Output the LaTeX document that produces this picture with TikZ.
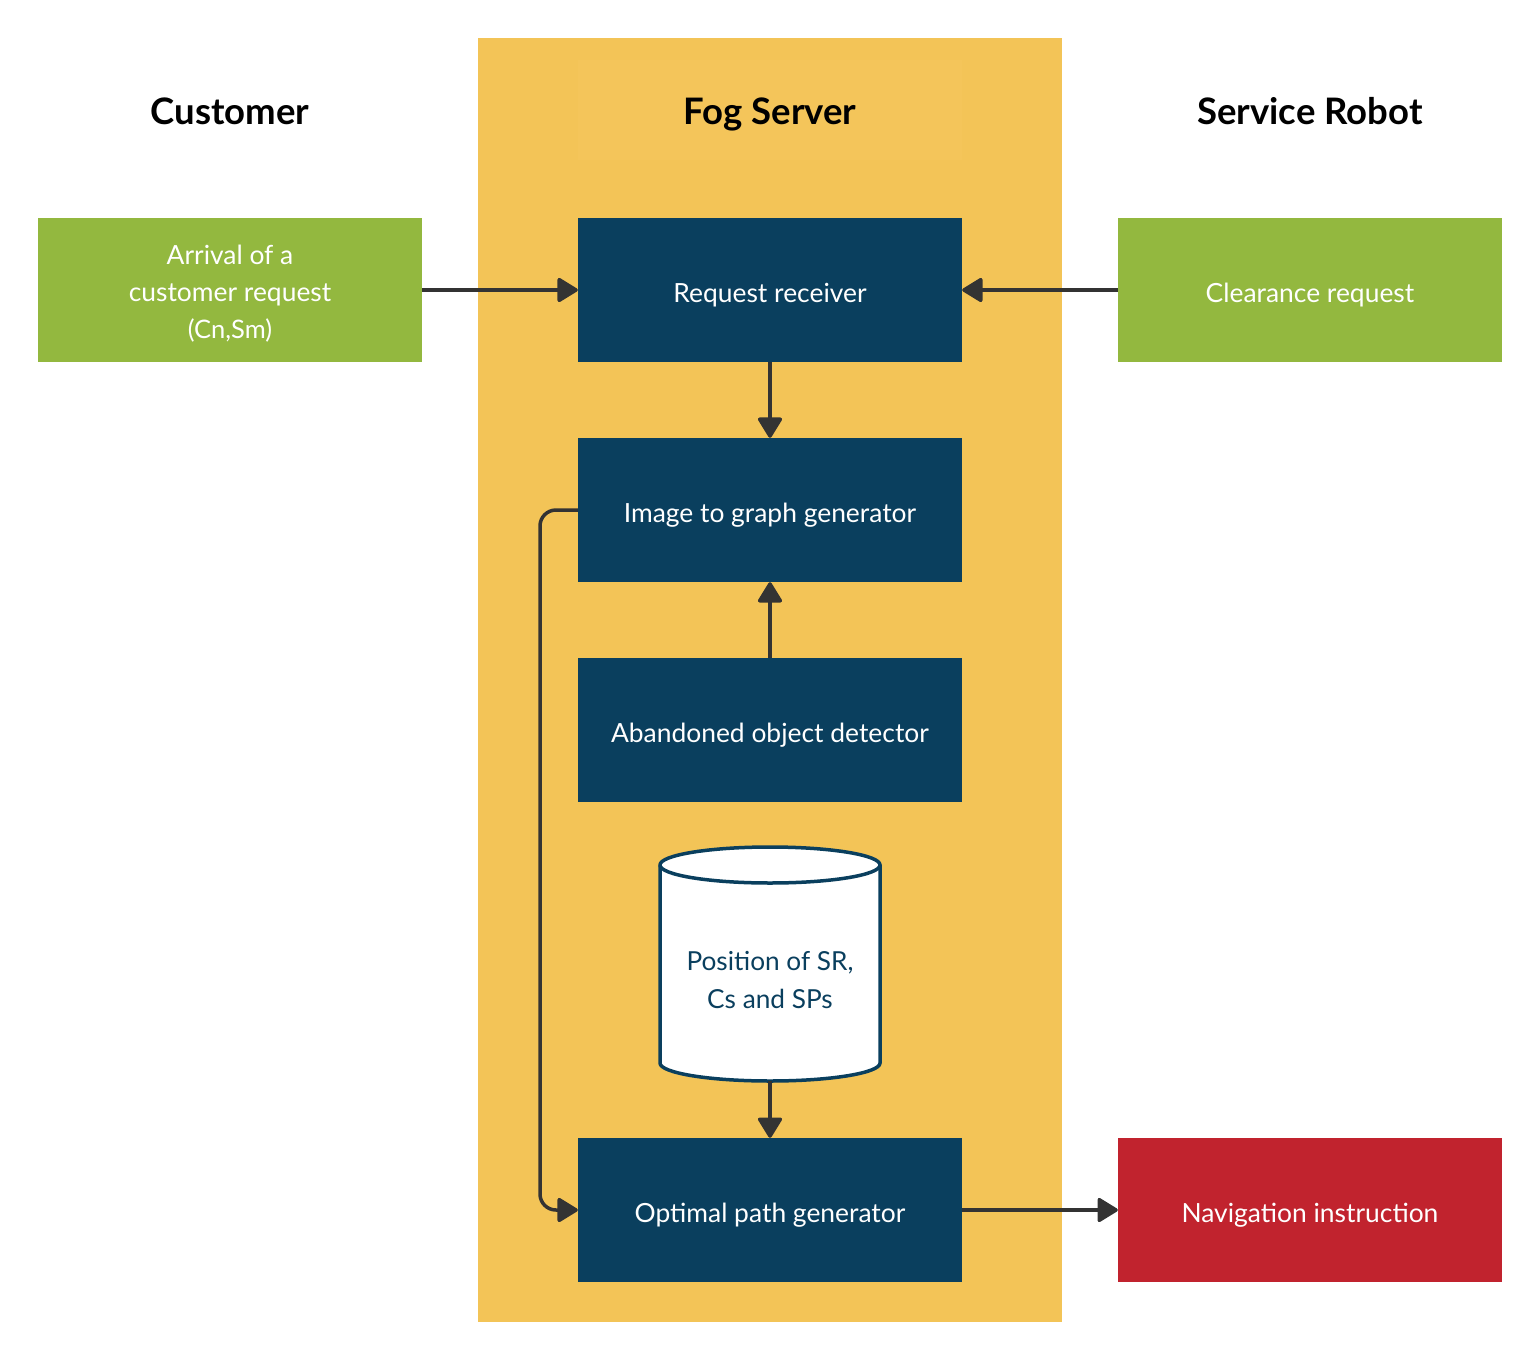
\documentclass[tikz,border=0pt]{standalone}
\usepackage{fontspec}
\setmainfont{Lato}
\usetikzlibrary{arrows.meta}
\definecolor{fogyel}{HTML}{F3C457}
\definecolor{fogyel2}{HTML}{F4C55A}
\definecolor{grn}{HTML}{93B83F}
\definecolor{navy}{HTML}{0A3F5E}
\definecolor{redb}{HTML}{C1232E}
\definecolor{arr}{HTML}{333333}
\tikzset{
  box/.style={draw=none, minimum width=384pt, minimum height=144pt, inner sep=0pt, text=white, font=\fontsize{26.4}{37}\selectfont, align=center, text height=24pt, text depth=0pt},
  navybox/.style={box, fill=navy},
  greenbox/.style={box, fill=grn},
  redbox/.style={box, fill=redb},
  lbl/.style={inner sep=0pt, align=center, font=\fontsize{26.4}{37}\selectfont},
  title/.style={font=\fontsize{36.5}{44}\selectfont\bfseries, text=black, anchor=base, inner sep=0pt},
  conn/.style={draw=arr, line width=3.5pt, -{Triangle[length=22pt,width=26pt,round]}},
}
\begin{document}
\begin{tikzpicture}[x=1pt,y=-1pt]
\useasboundingbox (0,0) rectangle (1540,1360);
\fill[fogyel] (478,38) rectangle (1062,1322);
\fill[fogyel2] (578,60) rectangle (962,160);
\node[title] (tcust) at (230,124) {Customer};
\node[title] (tfog) at (770,124) {Fog Server};
\node[title] (trob) at (1310,124) {Service Robot};

\node[greenbox] (arrival) at (230,290) {};
\node[lbl, text=white] (arrivaltxt) at (230,293.5) {Arrival of a\\customer request\\{\fontsize{25.5}{37}\selectfont (Cn,Sm)}};
\node[greenbox] (clear) at (1310,290) {Clearance request};
\node[navybox] (recv) at (770,290) {Request receiver};
\node[navybox] (img) at (770,510) {Image to graph generator};
\node[navybox] (aband) at (770,730) {Abandoned object detector};
\node[navybox] (opt) at (770,1210) {Optimal path generator};
\node[redbox] (nav) at (1310,1210) {Navigation instruction};

% cylinder
\draw[navy, line width=3.5pt, fill=white] (660,865) -- (660,1063) arc[start angle=180, end angle=0, x radius=110, y radius=18] -- (880,865) arc[start angle=0, end angle=-180, x radius=110, y radius=18] -- cycle;
\draw[navy, line width=3.5pt] (660,865) arc[start angle=180, end angle=0, x radius=110, y radius=18];
\node[minimum width=220pt, minimum height=234pt, inner sep=0pt] (db) at (770,964) {};
\node[lbl, text=navy, font=\fontsize{26.2}{38}\selectfont] (dbtext) at (770,980) {Position of SR,\\Cs and SPs};

\draw[conn] (arrival.east) -- (recv.west);
\draw[conn] (clear.west) -- (recv.east);
\draw[conn] (recv.south) -- (img.north);
\draw[conn] (aband.north) -- (img.south);
\draw[conn] (db.south) -- (opt.north);
\draw[conn, rounded corners=16pt] (img.west) -- (540,510) -- (540,1210) -- (opt.west);
\draw[conn] (opt.east) -- (nav.west);
\end{tikzpicture}
\end{document}
